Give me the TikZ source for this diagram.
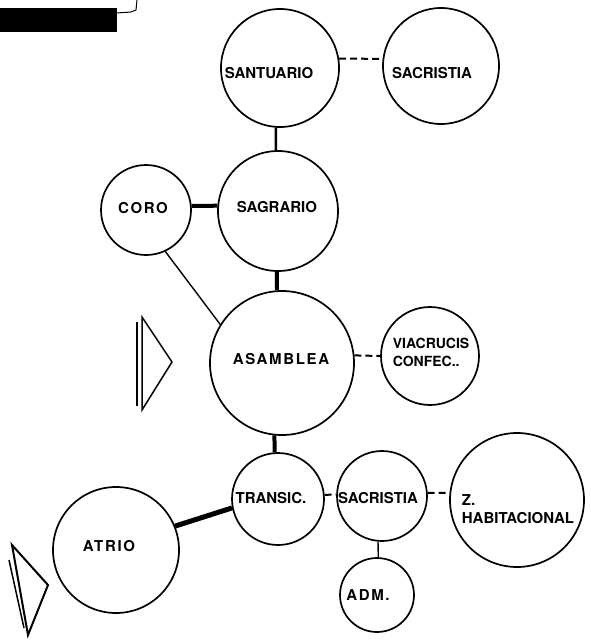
\documentclass[tikz,border=0pt]{standalone}
\usepackage{fontspec}
\setmainfont{TeX Gyre Heros}
\newfontfamily\spaced[LetterSpace=11]{TeX Gyre Heros}
\begin{document}
\begin{tikzpicture}[x=1pt,y=-1pt,
  room/.style={draw,circle,line width=1.7pt,inner sep=0pt},
  tag/.style={font=\fontsize{15}{18}\selectfont\bfseries,inner sep=0pt,align=left},
  wtag/.style={font=\fontsize{15}{18}\selectfont\spaced\bfseries,inner sep=0pt},
  link/.style={line width=2.5pt},
  strong/.style={line width=4pt},
  weak/.style={line width=1.4pt},
  aux/.style={line width=2pt,dash pattern=on 7pt off 4pt}]
\useasboundingbox (0,0) rectangle (590,640);
% rooms
\node[room,minimum size=118pt] (santuario) at (280,68) {};
\node[room,minimum size=116pt] (sacristiaA) at (441,66) {};
\node[room,minimum size=120pt] (sagrario) at (278,211) {};
\node[room,minimum size=90pt] (coro) at (146,210) {};
\node[room,minimum size=144pt] (asamblea) at (282,363) {};
\node[room,minimum size=98pt] (viacrucis) at (430,356) {};
\node[room,minimum size=92pt] (transic) at (278,499) {};
\node[room,minimum size=90pt] (sacristiaB) at (382,496) {};
\node[room,minimum size=134pt] (habit) at (517,500) {};
\node[room,minimum size=74pt] (adm) at (377,595) {};
\node[room,minimum size=126pt] (atrio) at (116,550) {};
% names
\node[tag] (santuario-t) at (269,73) {SANTUARIO};
\node[tag] (sacristiaA-t) at (432,73) {SACRISTIA};
\node[tag] (sagrario-t) at (277,207) {SAGRARIO};
\node[wtag] (coro-t) at (143,208) {CORO};
\node[wtag] (asamblea-t) at (281,359) {ASAMBLEA};
\node[tag,font=\fontsize{14}{18}\selectfont\bfseries] (viacrucis-t) at (431,352) {VIACRUCIS\\CONFEC..};
\node[tag] (transic-t) at (271,498) {TRANSIC.};
\node[tag] (sacristiaB-t) at (378,498) {SACRISTIA};
\node[tag,align=left] (habit-t) at (518,509) {Z.\\HABITACIONAL};
\node[wtag] (adm-t) at (368,595) {ADM.};
\node[wtag] (atrio-t) at (109,546) {ATRIO};
% relations
\draw[aux] (santuario.9) -- (sacristiaA.173);
\draw[link] (santuario.-94) -- (sagrario.92);
\draw[strong] (coro.5) -- (sagrario.175);
\draw[weak] (coro.-65) -- (asamblea.148);
\draw[strong] (sagrario.-91) -- (asamblea.94);
\draw[aux] (asamblea.6) -- (viacrucis.180);
\draw[strong] (asamblea.-96) -- (transic.94);
\draw[line width=5pt] (atrio.22) -- (transic.191);
\draw[aux] (transic.5) -- (sacristiaB.178);
\draw[aux] (sacristiaB.4) -- (habit.174);
\draw[weak] (sacristiaB.-95) -- (adm.88);
% entries
\draw[line width=1.5pt] (142,317) -- (172,362) -- (142,410) -- cycle;
\draw[line width=2pt] (137,322) -- (137,406);
\draw[line width=2pt] (12,545) -- (48,585) -- (28,635) -- cycle;
\draw[line width=1.5pt] (9,560) -- (24,628);
% title block
\fill (0,8) rectangle (117,32);
\draw[line width=1pt] (117,13) -- (131,12) -- (136,10) -- (137,0);
\end{tikzpicture}
\end{document}
